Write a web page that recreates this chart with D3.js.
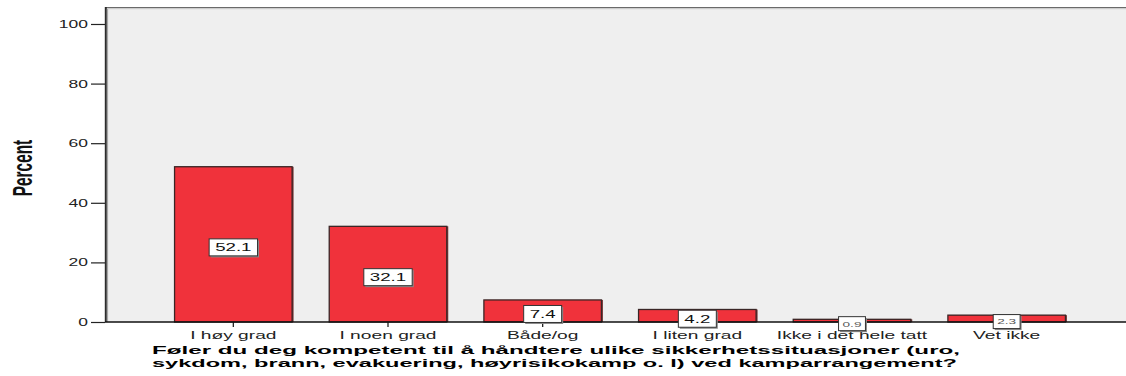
<!DOCTYPE html>
<html>
<head>
<meta charset="utf-8">
<script src="https://cdn.jsdelivr.net/npm/d3@7/dist/d3.min.js"></script>
<style>
  html, body { margin: 0; padding: 0; background: #ffffff; }
  svg { display: block; }
  text { font-family: "Liberation Sans", Arial, sans-serif; }
</style>
</head>
<body>
<svg id="chart" width="1126" height="376"></svg>
<script>
// Survey answers: share of respondents (percent) per answer category
const categories = ["I høy grad", "I noen grad", "Både/og", "I liten grad", "Ikke i det hele tatt", "Vet ikke"];
const percents = [52.1, 32.1, 7.4, 4.2, 0.9, 2.3];
const yTicks = [0, 20, 40, 60, 80, 100];
const yTitle = "Percent";
const xTitleLines = [
  "Føler du deg kompetent til å håndtere ulike sikkerhetssituasjoner (uro,",
  "sykdom, brann, evakuering, høyrisikokamp o. l) ved kamparrangement?"
];

const W = 1126, H = 376;
const plot = { left: 105, right: W, top: 7, bottom: 322 };

const svg = d3.select("#chart");

const y = d3.scaleLinear().domain([0, 105.7]).range([plot.bottom, plot.top]);
const x = d3.scaleBand()
  .domain(categories)
  .range([156, 1084])
  .paddingInner(0.24)
  .paddingOuter(0.12);

// plot background and frame
svg.append("rect")
  .attr("x", plot.left).attr("y", plot.top)
  .attr("width", plot.right - plot.left).attr("height", plot.bottom - plot.top)
  .attr("fill", "#efefef");
svg.append("line")
  .attr("x1", plot.left).attr("x2", plot.right)
  .attr("y1", plot.top + 0.5).attr("y2", plot.top + 0.5)
  .attr("stroke", "#6a6a6a").attr("stroke-width", 1.2);
svg.append("line")
  .attr("x1", plot.left).attr("x2", plot.right)
  .attr("y1", plot.top + 1.7).attr("y2", plot.top + 1.7)
  .attr("stroke", "#c4c4c4").attr("stroke-width", 1);

// bars
const data = categories.map((c, i) => ({ cat: c, value: percents[i] }));
const bars = svg.append("g");
bars.selectAll("rect.shadow")
  .data(data).join("rect")
  .attr("class", "shadow")
  .attr("x", d => x(d.cat) + 1.5)
  .attr("y", d => y(d.value))
  .attr("width", x.bandwidth())
  .attr("height", d => y(0) - y(d.value))
  .attr("fill", "#7a3a3a");
bars.selectAll("rect.bar")
  .data(data).join("rect")
  .attr("class", "bar")
  .attr("x", d => x(d.cat))
  .attr("y", d => y(d.value))
  .attr("width", x.bandwidth())
  .attr("height", d => y(0) - y(d.value))
  .attr("fill", "#f0323b")
  .attr("stroke", "#3a2626")
  .attr("stroke-width", 1.3);

// y axis
const yAxis = svg.append("g")
  .attr("transform", `translate(${plot.left},0)`)
  .call(d3.axisLeft(y).tickValues(yTicks).tickSize(14).tickPadding(0).tickFormat(d3.format("d")));
yAxis.select(".domain").remove();
yAxis.selectAll(".tick line").attr("stroke", "#222").attr("stroke-width", 1.2);
yAxis.selectAll(".tick text")
  .attr("x", 0).attr("dy", null).attr("y", 0)
  .attr("text-anchor", "end")
  .attr("font-size", 10)
  .attr("fill", "#222")
  .attr("transform", "translate(-17,3.6) scale(1.75,1)");

// left axis line with its light edge
svg.append("line")
  .attr("x1", plot.left + 0.8).attr("x2", plot.left + 0.8)
  .attr("y1", plot.top).attr("y2", plot.bottom)
  .attr("stroke", "#2c2c2c").attr("stroke-width", 2);
svg.append("line")
  .attr("x1", plot.left + 2.5).attr("x2", plot.left + 2.5)
  .attr("y1", plot.top + 2).attr("y2", plot.bottom)
  .attr("stroke", "#a8a8a8").attr("stroke-width", 1.2);

// x axis
const xAxis = svg.append("g")
  .attr("transform", `translate(0,${plot.bottom})`)
  .call(d3.axisBottom(x).tickSize(5).tickPadding(0));
xAxis.select(".domain").remove();
xAxis.selectAll(".tick line").attr("stroke", "#222").attr("stroke-width", 1.3);
xAxis.selectAll(".tick text")
  .attr("y", 0).attr("dy", null)
  .attr("font-size", 10)
  .attr("fill", "#222")
  .attr("transform", "translate(0,17) scale(1.92,1)");
svg.append("line")
  .attr("x1", plot.left).attr("x2", plot.right)
  .attr("y1", plot.bottom).attr("y2", plot.bottom)
  .attr("stroke", "#111").attr("stroke-width", 1.5);

// value labels in boxes, centred on each bar
const labels = svg.append("g");
data.forEach(d => {
  const small = (y(0) - y(d.value)) < 10;
  const fs = small ? 8 : 11;
  const sx = 1.7;
  const cx = x(d.cat) + x.bandwidth() / 2;
  const cy = (y(d.value) + y(0)) / 2 + 3;
  const txt = d3.format(".1f")(d.value);
  const g = labels.append("g");
  const t = g.append("text")
    .attr("text-anchor", "middle")
    .attr("font-size", fs)
    .attr("fill", small ? "#555" : "#111")
    .attr("transform", `translate(${cx},${cy + fs * 0.36}) scale(${sx},1)`)
    .text(txt);
  const tw = t.node().getComputedTextLength() * sx;
  const bw = tw + (small ? 8 : 12);
  const bh = small ? 14 : 17;
  g.insert("rect", "text")
    .attr("x", cx - bw / 2 + 1.5).attr("y", cy - bh / 2 + 1.5)
    .attr("width", bw).attr("height", bh)
    .attr("fill", "#8a8a8a");
  g.insert("rect", "text")
    .attr("x", cx - bw / 2).attr("y", cy - bh / 2)
    .attr("width", bw).attr("height", bh)
    .attr("fill", "#ffffff")
    .attr("stroke", "#333")
    .attr("stroke-width", 1);
});

// y axis title
svg.append("text")
  .attr("transform", "translate(32,168) rotate(-90) scale(1.1,2)")
  .attr("text-anchor", "middle")
  .attr("font-size", 14)
  .attr("font-weight", "bold")
  .attr("fill", "#111")
  .text(yTitle);

// x axis title, two tight lines
svg.append("g").selectAll("text")
  .data(xTitleLines).join("text")
  .attr("x", 152)
  .attr("y", (d, i) => 354 + i * 13)
  .attr("textLength", (d, i) => i === 0 ? 808 : 805)
  .attr("lengthAdjust", "spacingAndGlyphs")
  .attr("font-family", "'DejaVu Sans', Verdana, sans-serif")
  .attr("font-size", 11.5)
  .attr("font-weight", "bold")
  .attr("fill", "#000")
  .text(d => d);
</script>
</body>
</html>
